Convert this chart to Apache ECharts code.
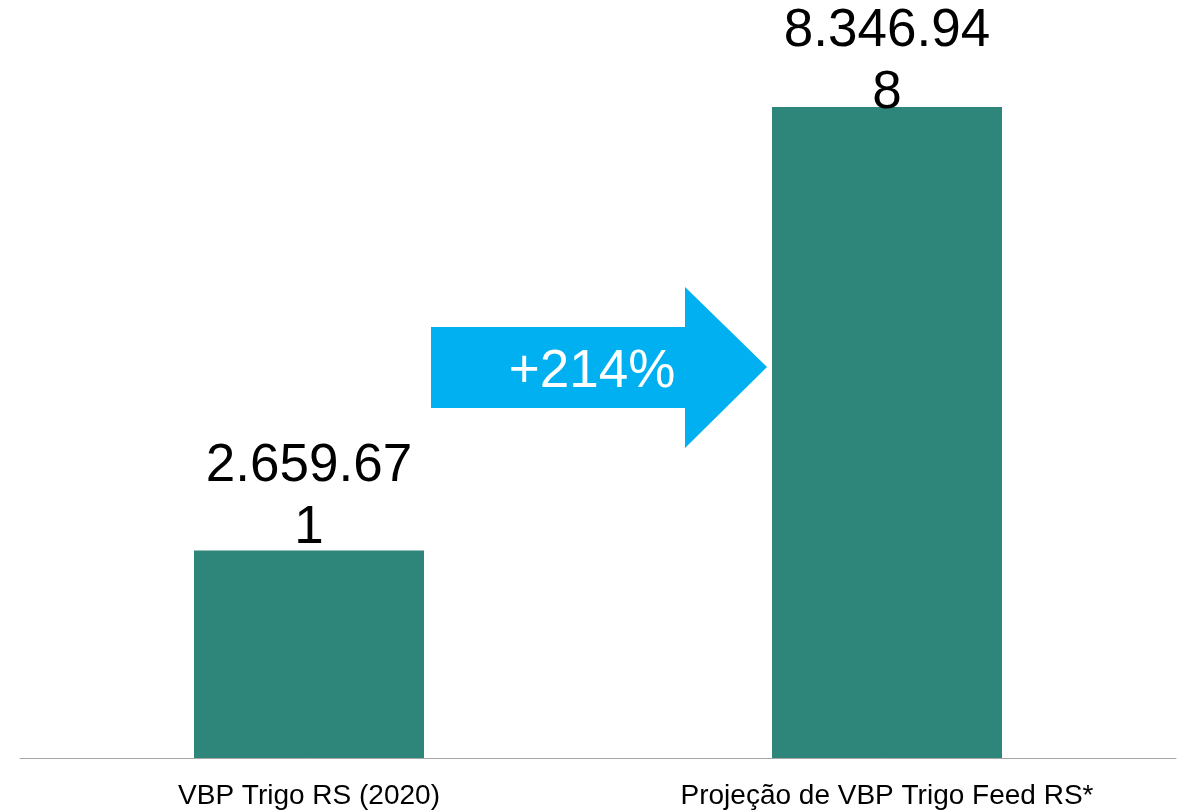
<!DOCTYPE html>
<html>
<head>
<meta charset="utf-8">
<title>VBP Trigo RS</title>
<script src="https://cdn.jsdelivr.net/npm/echarts@6/dist/echarts.min.js"></script>
<style>
  html, body { margin: 0; padding: 0; background: #fff; }
  #chart { width: 1186px; height: 812px; }
</style>
</head>
<body>
<div id="chart"></div>
<script>
// categorias e valores (R$)
const categories = ['VBP Trigo RS (2020)', 'Projeção de VBP Trigo Feed RS*']
const values = [2659671, 8346948]
const growthLabel = '+214%'

// formata com ponto de milhar e quebra como no Excel (8 caracteres por linha)
function fmtLabel(v) {
  const s = String(v).replace(/\B(?=(\d{3})+(?!\d))/g, '.')
  return s.slice(0, 8) + '\n' + s.slice(8)
}

const chart = echarts.init(document.getElementById('chart'))

// o rótulo da barra mais alta fica empurrado para baixo (limite superior do gráfico)
const seriesData = values.map((v, i) => {
  return i === values.length - 1 ? { value: v, label: { distance: -17 } } : v
})

const option = {
  backgroundColor: '#ffffff',
  animation: false,
  grid: { left: 20, right: 10, top: 56, bottom: 54 },
  xAxis: {
    type: 'category',
    data: categories,
    axisLine: { lineStyle: { color: '#a6a6a6', width: 1 } },
    axisTick: { show: false },
    axisLabel: {
      color: '#000',
      fontFamily: 'Liberation Sans, Arial, sans-serif',
      fontSize: 28,
      margin: 24
    }
  },
  yAxis: {
    type: 'value',
    min: 0,
    max: 9000000,
    show: false,
    splitLine: { show: false }
  },
  series: [
    {
      type: 'bar',
      data: seriesData,
      barWidth: 230,
      itemStyle: { color: '#2e857a' },
      label: {
        show: true,
        position: 'top',
        distance: -9,
        color: '#000',
        fontFamily: 'Liberation Sans, Arial, sans-serif',
        fontSize: 53,
        lineHeight: 62,
        formatter: p => fmtLabel(p.value)
      }
    }
  ],
  graphic: [
    {
      type: 'polygon',
      shape: {
        points: [[431, 327], [685, 327], [685, 287], [767, 367], [685, 448], [685, 408], [431, 408]]
      },
      style: { fill: '#00b0f0' }
    },
    {
      type: 'text',
      x: 592,
      y: 372,
      style: {
        text: growthLabel,
        fill: '#fff',
        font: '53px "Liberation Sans", Arial, sans-serif',
        align: 'center',
        verticalAlign: 'middle'
      }
    }
  ]
}

chart.setOption(option)
</script>
</body>
</html>
